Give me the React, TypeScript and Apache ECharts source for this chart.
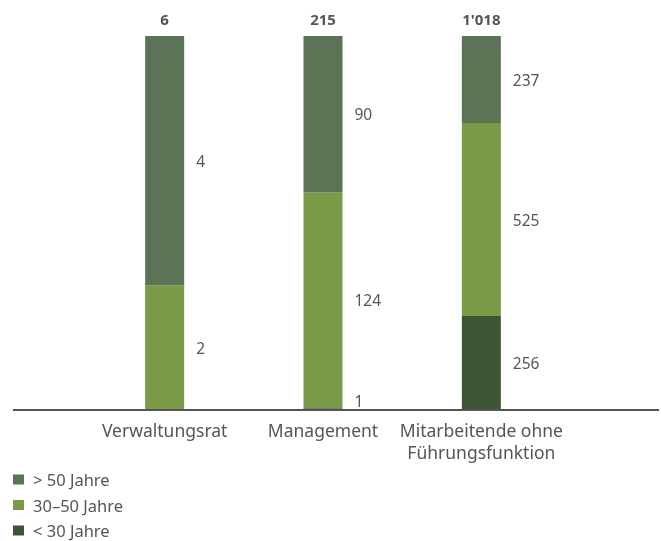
import React, { useEffect, useRef } from "react";
import * as echarts from "echarts";

const categories = ["Verwaltungsrat", "Management", "Mitarbeitende ohne\nFührungsfunktion"];
const seriesNames = ["< 30 Jahre", "30–50 Jahre", "> 50 Jahre"];
const under30 = [0, 1, 256];
const between30and50 = [2, 124, 525];
const over50 = [4, 90, 237];
const totals = [6, 215, 1018];
const colors = ["#3D5435", "#7A9A47", "#5B7455"];

const fmt = (n: number) => String(n).replace(/\B(?=(\d{3})+(?!\d))/g, "'");

export default function App() {
  const ref = useRef<HTMLDivElement>(null);
  useEffect(() => {
    if (!ref.current) return;
    const chart = echarts.init(ref.current, null, { renderer: "svg" });
    const raw = [under30, between30and50, over50];
    const font = "Noto Sans";
    const series: any[] = raw.map((vals, si) => ({
      name: seriesNames[si],
      type: "bar",
      stack: "s",
      barWidth: 39,
      itemStyle: { color: colors[si] },
      data: vals.map((v, i) => ({
        value: (v / totals[i]) * 100,
        raw: v,
        label: v === 0 ? { show: false } : v / totals[i] < 0.02 ? { offset: [0, -8] } : undefined,
      })),
      label: {
        show: true,
        position: "right",
        distance: 12,
        color: "#555",
        fontFamily: font,
        fontSize: 15.5,
        formatter: (p: any) => fmt(p.data.raw),
      },
    }));
    series.push({
      name: "total",
      type: "bar",
      stack: "s",
      barWidth: 39,
      data: totals.map((t) => ({ value: 0, raw: t })),
      itemStyle: { color: "transparent" },
      label: {
        show: true,
        position: "top",
        distance: 10,
        color: "#555",
        fontFamily: font,
        fontSize: 15,
        fontWeight: "bold",
        formatter: (p: any) => fmt(p.data.raw),
      },
    });
    chart.setOption({
      animation: false,
      grid: { left: 85.5, right: 100.5, top: 36, bottom: 131 },
      xAxis: {
        type: "category",
        data: categories,
        axisLine: { show: false },
        axisTick: { show: false },
        axisLabel: {
          color: "#555",
          fontFamily: font,
          fontSize: 17.5,
          lineHeight: 22,
          margin: 9,
          interval: 0,
          verticalAlign: "top",
        },
      },
      yAxis: { type: "value", min: 0, max: 100, show: false, splitLine: { show: false } },
      legend: {
        data: ["> 50 Jahre", "30–50 Jahre", "< 30 Jahre"],
        orient: "vertical",
        left: 13,
        top: 471,
        padding: 0,
        height: 70,
        itemWidth: 11,
        itemHeight: 10,
        itemGap: 8.5,
        icon: "rect",
        textStyle: { color: "#555", fontFamily: font, fontSize: 16.5, lineHeight: 17, padding: [0, 0, 0, 4] },
      },
      graphic: [
        {
          type: "line",
          shape: { x1: 13, y1: 410, x2: 659, y2: 410 },
          style: { stroke: "#555", lineWidth: 2 },
          z: 10,
        },
      ],
      series,
    });
    return () => chart.dispose();
  }, []);
  return <div ref={ref} style={{ position: "fixed", left: 0, top: 0, width: 661, height: 541 }} />;
}
